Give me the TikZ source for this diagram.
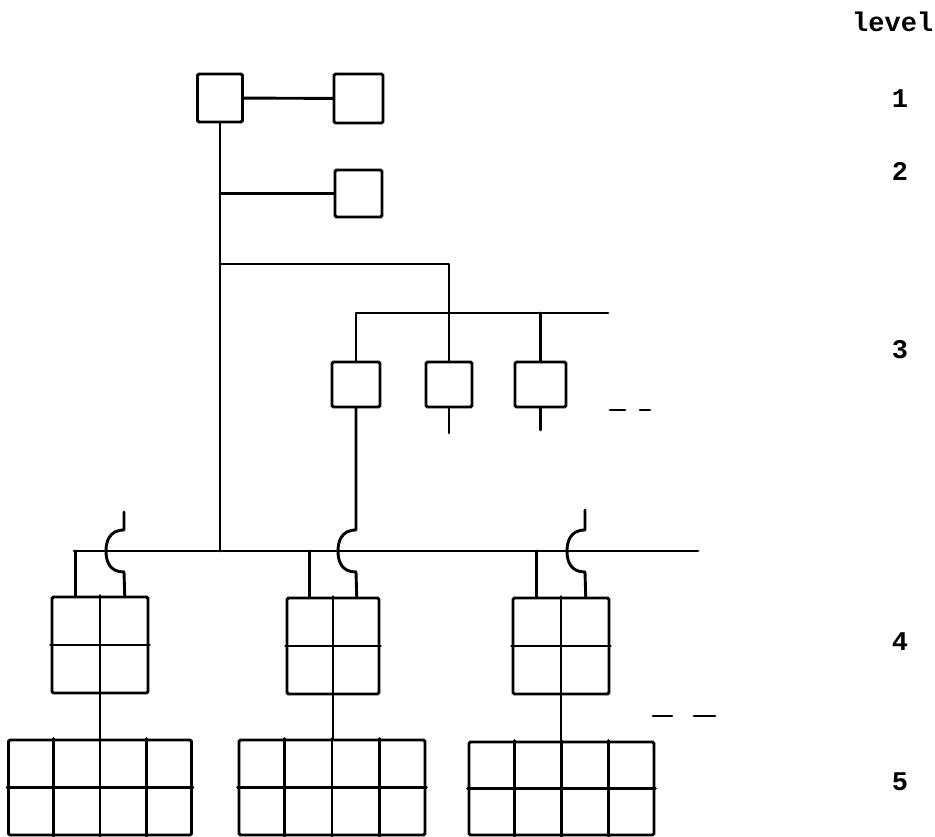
\documentclass[tikz,border=0pt]{standalone}
\usepackage{fontspec}
\setmonofont{Liberation Mono}
\usetikzlibrary{calc}
\newcommand{\hopline}[3]{%
  \draw[ln] (#1) -- (#2,530) .. controls (#2-15,530) and (#2-18,542) .. (#2-18,551)
    .. controls (#2-18,562) and (#2-14,572) .. (#2,572) -- (#3);}
\begin{document}
\begin{tikzpicture}[x=1pt,y=-1pt,
  ln/.style={line width=2.9pt, line cap=round, line join=round},
  sq/.style={draw, line width=2.9pt, rounded corners=1.5pt, inner sep=0pt},
  lab/.style={font=\ttfamily\bfseries\fontsize{27}{27}\selectfont, inner sep=0pt, anchor=base}]
\useasboundingbox (0,0) rectangle (935,837);

% level 1 & 2
\node[sq, minimum width=45pt, minimum height=48pt] (A) at (220,98) {};
\node[sq, minimum width=49pt, minimum height=49pt] (B) at (358.5,98.5) {};
\node[sq, minimum width=47pt, minimum height=47pt] (C) at (358.5,193.5) {};

% level 3
\node[sq, minimum width=48pt, minimum height=45pt] (M1) at (356,384.5) {};
\node[sq, minimum width=46pt, minimum height=45pt] (M2) at (449,384.5) {};
\node[sq, minimum width=51pt, minimum height=45pt] (M3) at (540.5,384.5) {};

% level 4
\node[sq, minimum width=96pt, minimum height=96pt] (L4a) at (100,645) {};
\node[sq, minimum width=92pt, minimum height=96pt] (L4b) at (333,646) {};
\node[sq, minimum width=96pt, minimum height=96pt] (L4c) at (561,646) {};

% level 5
\node[sq, minimum width=183pt, minimum height=95pt] (L5a) at (100,787.5) {};
\node[sq, minimum width=186pt, minimum height=95pt] (L5b) at (332,787.5) {};
\node[sq, minimum width=185pt, minimum height=93pt] (L5c) at (561.5,788.5) {};

% grid dividers
\foreach \n in {L4a,L4b,L4c}{
  \draw[ln] (\n.north) -- (\n.south);
  \draw[ln] (\n.west) -- (\n.east);
}
\foreach \n in {L5a,L5b,L5c}{
  \foreach \f in {0.25,0.5,0.75}
    \draw[ln] ($(\n.north west)!\f!(\n.north east)$) -- ($(\n.south west)!\f!(\n.south east)$);
  \draw[ln] (\n.west) -- (\n.east);
}

% coordinates
\coordinate (busL) at (74,551);
\coordinate (busR) at (698,551);
\coordinate (h2) at (0,264);
\coordinate (h3) at (0,313);
\coordinate (b3R) at (608,313);
\coordinate (t1) at (124,512);
\coordinate (t3) at (585,510);
\coordinate (e2) at (449,433);
\coordinate (e3) at (540.5,430);

% level 1-3 connectors
\draw[ln] (A) -- (B);
\draw[ln] (A.south) -- (A.south |- busL);
\draw[ln] (A.south |- C.west) -- (C.west);
\draw[ln] (A.south |- h2) -| (M2.north);
\draw[ln] (M1.north) |- (b3R);
\draw[ln] (M3.north |- h3) -- (M3.north);
\draw[ln] (M2.south) -- (e2);
\draw[ln] (M3.south) -- (e3);

% bus
\draw[ln] (busL) -- (busR);

% level 4 connectors
\foreach \n in {L4a,L4b,L4c}{
  \coordinate (c-\n) at ($(\n.north west)!0.25!(\n.north east)$);
  \coordinate (k-\n) at ($(\n.north west)!0.75!(\n.north east)$);
  \draw[ln] (c-\n |- busL) -- (c-\n);
}
\hopline{t1}{124}{k-L4a}
\hopline{M1.south}{356}{k-L4b}
\hopline{t3}{585}{k-L4c}

% level 4 to 5
\draw[ln] (L4a.south) -- (L4a.south |- L5a.north);
\draw[ln] (L4b.south) -- (L4b.south |- L5b.north);
\draw[ln] (L4c.south) -- (L4c.south |- L5c.north);

% continuation dashes
\draw[ln] (610,410) -- (625,410);
\draw[ln] (640,410) -- (650,410);
\draw[ln] (653,716) -- (672,716);
\draw[ln] (694,716) -- (715,716);

% labels
\node[lab, anchor=base west] (lv) at (852,32) {level};
\node[lab] (n1) at (900,108) {1};
\node[lab] (n2) at (900,181) {2};
\node[lab] (n3) at (900,358) {3};
\node[lab] (n4) at (900,650) {4};
\node[lab] (n5) at (900,790) {5};
\end{tikzpicture}
\end{document}
